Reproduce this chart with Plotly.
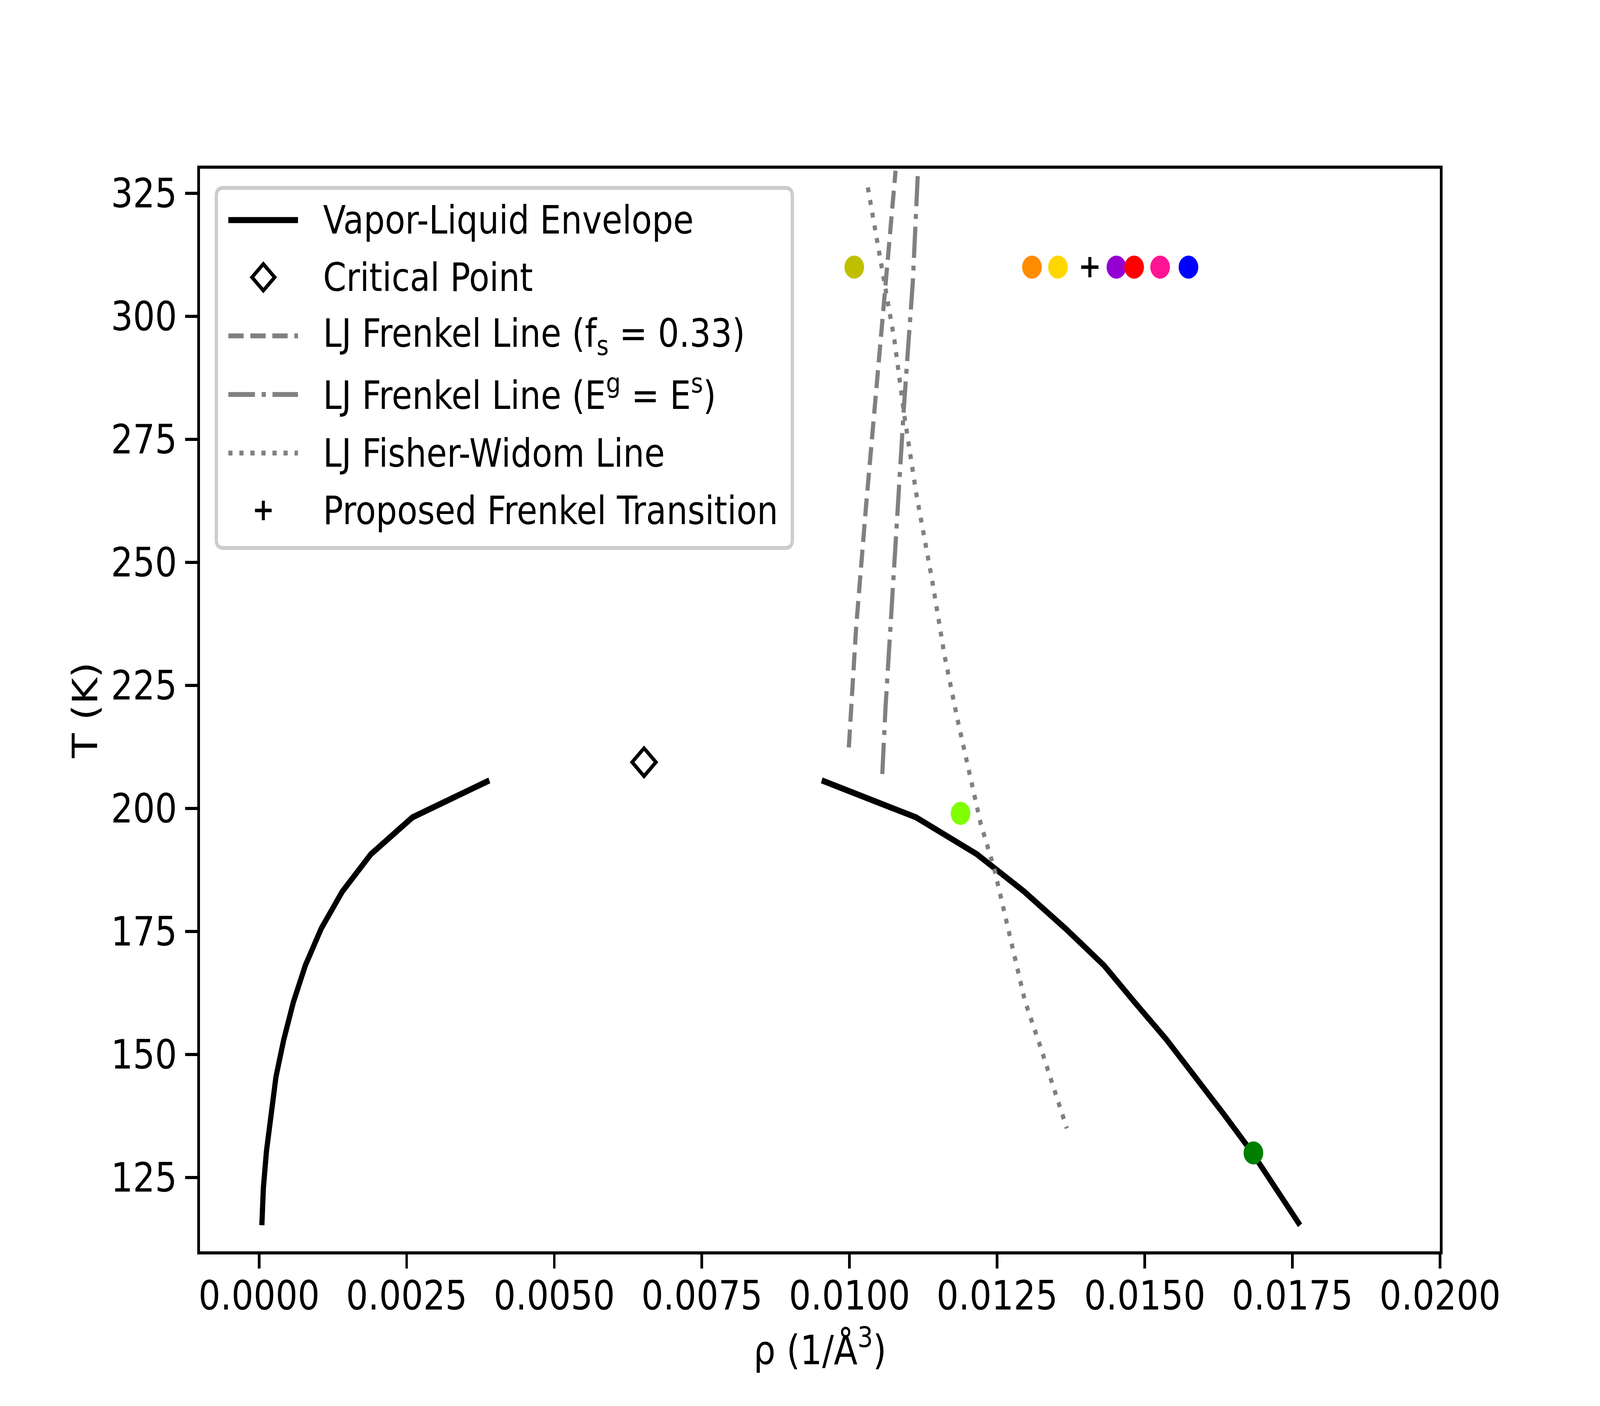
import plotly.graph_objects as go

# ---------------- data ----------------
# Vapor-liquid envelope (shared temperatures, K)
env_T = [115.3, 122.9, 130.4, 138.0, 145.5, 153.0, 160.6, 168.1, 175.6, 183.1, 190.7, 198.2, 205.7]
vap_rho = [0.0000475, 0.0000734, 0.000126, 0.000196, 0.000287, 0.000418, 0.000580,
           0.000784, 0.001053, 0.001409, 0.001893, 0.002599, 0.00390]
liq_rho = [0.01763, 0.01721, 0.01680, 0.01633, 0.01586, 0.01537, 0.01483,
           0.01431, 0.013657, 0.012959, 0.012157, 0.011125, 0.00953]

# Critical point
crit_rho = [0.00652]
crit_T = [209.4]

# LJ Frenkel line (f_s = 0.33)
fs_rho = [0.009988, 0.010111, 0.010280, 0.010412, 0.010582, 0.010714, 0.010780]
fs_T = [212.4, 236.6, 261.5, 279.7, 301.6, 319.0, 329.6]

# LJ Frenkel line (E^g = E^s)
eg_rho = [0.010555, 0.010609, 0.010717, 0.010808, 0.010855, 0.010921, 0.010996, 0.011072, 0.011155]
eg_T = [207.0, 220.4, 241.5, 259.6, 270.1, 281.5, 294.3, 307.0, 328.5]

# LJ Fisher-Widom line
fw_rho = [0.01031, 0.01054, 0.01076, 0.01093, 0.01113, 0.01140, 0.01161, 0.01183, 0.01204,
          0.01222, 0.01245, 0.01260, 0.01278, 0.01297, 0.01321, 0.01340, 0.01368]
fw_T = [326.2, 310.7, 295.2, 279.7, 264.0, 246.3, 231.0, 218.0, 206.7,
        197.0, 187.8, 180.0, 170.1, 160.9, 152.4, 145.3, 135.0]

# Simulated state points
state_rho = [0.01008, 0.01309, 0.01353, 0.01452, 0.01482, 0.01526, 0.01574, 0.01188, 0.01684]
state_T = [310, 310, 310, 310, 310, 310, 310, 199, 130]
state_colors = ['#BFBF00', '#FF8C00', '#FFD700', '#9400D3', '#FF0000',
                '#FF1493', '#0000FF', '#7FFF00', '#008000']

# Proposed Frenkel transition
pft_rho = [0.01407]
pft_T = [310]

legend_labels = [
    "Vapor-Liquid Envelope",
    "Critical Point",
    "LJ Frenkel Line (f<sub>s</sub> = 0.33)",
    "LJ Frenkel Line (E<sup>g</sup> = E<sup>s</sup>)",
    "LJ Fisher-Widom Line",
    "Proposed Frenkel Transition",
]

x_ticks = [0.0, 0.0025, 0.005, 0.0075, 0.01, 0.0125, 0.015, 0.0175, 0.02]
y_ticks = [125, 150, 175, 200, 225, 250, 275, 300, 325]

# ---------------- styling (design pixels of a 4800x3600 canvas) ----------------
W, H = 4800, 3600
ML, MR, MT, MB = 600, 480, 432, 396
PW, PH = W - ML - MR, H - MT - MB
FONT = "DejaVu Sans"
FS = 104
FS_LEG = 100
GRAY = "#808080"
LW_BLACK = 15.6
LW_GRAY = 12.5
DASH = "46px,20px"
DASHDOT = "80px,20px,12.5px,20px"
DOT = "12.5px,20.6px"


def px_x(X):
    return (X - ML) / PW


def px_y(Y):
    return (MT + PH - Y) / PH


fig = go.Figure()

fig.add_trace(go.Scatter(x=vap_rho, y=env_T, mode="lines",
                         line=dict(color="black", width=LW_BLACK), showlegend=False))
fig.add_trace(go.Scatter(x=liq_rho, y=env_T, mode="lines",
                         line=dict(color="black", width=LW_BLACK), showlegend=False))
fig.add_trace(go.Scatter(x=crit_rho, y=crit_T, mode="markers",
                         marker=dict(symbol="diamond-open", size=55, color="black",
                                     line=dict(width=10, color="black")),
                         showlegend=False))
fig.add_trace(go.Scatter(x=fs_rho, y=fs_T, mode="lines",
                         line=dict(color=GRAY, width=LW_GRAY, dash=DASH), showlegend=False))
fig.add_trace(go.Scatter(x=eg_rho, y=eg_T, mode="lines",
                         line=dict(color=GRAY, width=LW_GRAY, dash=DASHDOT), showlegend=False))
fig.add_trace(go.Scatter(x=fw_rho, y=fw_T, mode="lines",
                         line=dict(color=GRAY, width=LW_GRAY, dash=DOT), showlegend=False))
fig.add_trace(go.Scatter(x=state_rho, y=state_T, mode="markers",
                         marker=dict(symbol="circle", size=59, color=state_colors,
                                     line=dict(width=0)),
                         showlegend=False))
fig.add_trace(go.Scatter(x=pft_rho, y=pft_T, mode="markers",
                         marker=dict(symbol="cross-thin-open", size=37, color="black",
                                     line=dict(width=9, color="black")),
                         showlegend=False))

# ---------------- manual legend (matplotlib-like) ----------------
shapes = []
annotations = []
bx0, bx1 = px_x(649), px_x(2377)
by1, by0 = px_y(481), px_y(1403)
rx, ry = 21 / PW, 21 / PH
path = (f"M {bx0+rx},{by1} L {bx1-rx},{by1} Q {bx1},{by1} {bx1},{by1-ry} "
        f"L {bx1},{by0+ry} Q {bx1},{by0} {bx1-rx},{by0} "
        f"L {bx0+rx},{by0} Q {bx0},{by0} {bx0},{by0+ry} "
        f"L {bx0},{by1-ry} Q {bx0},{by1} {bx0+rx},{by1} Z")
shapes.append(dict(type="path", xref="paper", yref="paper", path=path,
                   fillcolor="rgba(255,255,255,0.8)",
                   line=dict(color="#CCCCCC", width=10), layer="above"))

rows = [563.5, 710, 860, 1010, 1160, 1307]
text_dy = [0, 0, 0, -5, 0, 0]
hx0, hx1, hxc = 685, 894, 790
text_x = 967

line_styles = {0: ("black", LW_BLACK, "solid"),
               2: (GRAY, LW_GRAY, DASH),
               3: (GRAY, LW_GRAY, DASHDOT),
               4: (GRAY, LW_GRAY, DOT)}
for i, (col, lw, dash) in line_styles.items():
    shapes.append(dict(type="line", xref="paper", yref="paper",
                       x0=px_x(hx0), x1=px_x(hx1), y0=px_y(rows[i]), y1=px_y(rows[i]),
                       line=dict(color=col, width=lw, dash=dash), layer="above"))

# diamond handle
d = 34
cy = rows[1]
dpath = (f"M {px_x(hxc)},{px_y(cy-d)} L {px_x(hxc+d)},{px_y(cy)} "
         f"L {px_x(hxc)},{px_y(cy+d)} L {px_x(hxc-d)},{px_y(cy)} Z")
shapes.append(dict(type="path", xref="paper", yref="paper", path=dpath,
                   line=dict(color="black", width=10), fillcolor="rgba(0,0,0,0)",
                   layer="above"))
# plus handle
p = 25
cy = rows[5]
shapes.append(dict(type="line", xref="paper", yref="paper",
                   x0=px_x(hxc - p), x1=px_x(hxc + p), y0=px_y(cy), y1=px_y(cy),
                   line=dict(color="black", width=9), layer="above"))
shapes.append(dict(type="line", xref="paper", yref="paper",
                   x0=px_x(hxc), x1=px_x(hxc), y0=px_y(cy - p), y1=px_y(cy + p),
                   line=dict(color="black", width=9), layer="above"))

for lab, ry_, dy in zip(legend_labels, rows, text_dy):
    annotations.append(dict(text=lab, xref="paper", yref="paper",
                            x=px_x(text_x), y=px_y(ry_ + dy), xanchor="left", yanchor="middle",
                            showarrow=False,
                            font=dict(family=FONT, size=FS_LEG, color="black")))

axis_common = dict(showline=True, mirror=True, linecolor="black", linewidth=8,
                   ticks="outside", ticklen=36, tickwidth=8, tickcolor="black",
                   showgrid=False, zeroline=False,
                   tickfont=dict(family=FONT, size=FS, color="black"))

fig.update_layout(
    width=W, height=H,
    margin=dict(l=ML, r=MR, t=MT, b=MB, autoexpand=False),
    paper_bgcolor="white", plot_bgcolor="white",
    font=dict(family=FONT, size=FS, color="black"),
    showlegend=False,
    xaxis=dict(range=[-0.001, 0.02], tickvals=x_ticks,
               ticktext=[f"{v:.4f}" for v in x_ticks],
               title=dict(text="ρ (1/Å<sup>3</sup>)", standoff=46,
                          font=dict(family=FONT, size=FS, color="black")),
               ticklabelstandoff=-20,
               **axis_common),
    yaxis=dict(range=[110, 330], tickvals=y_ticks,
               ticktext=[str(v) for v in y_ticks],
               title=dict(text="T (K)", standoff=9,
                          font=dict(family=FONT, size=FS, color="black")),
               ticklabelstandoff=4,
               **axis_common),
    shapes=shapes,
    annotations=annotations,
)

# Fit the 4800x3600 canvas to whatever viewport the page is opened in
fit_js = (
    "var gd=document.getElementById('{plot_id}');"
    "function fitFig(){"
    "document.documentElement.style.overflow='hidden';"
    "document.body.style.margin='0';document.body.style.overflow='hidden';"
    "var vw=document.documentElement.clientWidth||window.innerWidth;"
    "var vh=document.documentElement.clientHeight||window.innerHeight;"
    "gd.style.transformOrigin='0 0';"
    "gd.style.transform='scale('+(vw/4800)+','+(vh/3600)+')';}"
    "fitFig();window.addEventListener('resize',fitFig);"
)
fig.write_html("out.html", post_script=fit_js, config={"displayModeBar": False})
